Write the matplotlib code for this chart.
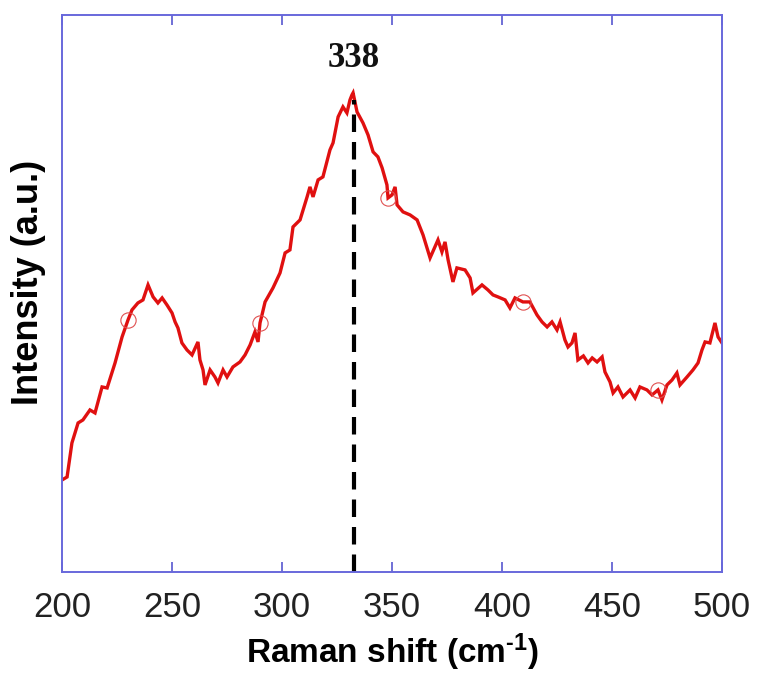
import numpy as np
import matplotlib
matplotlib.use("Agg")
import matplotlib.pyplot as plt

plt.rcParams["mathtext.fontset"] = "custom"
plt.rcParams["mathtext.rm"] = "Liberation Sans:bold"
plt.rcParams["mathtext.bf"] = "Liberation Sans:bold"
plt.rcParams["mathtext.default"] = "rm"

# Raman spectrum, intensity in arbitrary units
raman_shift = [200.0, 202.3, 204.5, 207.3, 209.5, 212.7, 215.0, 218.2, 220.5, 224.1,
               227.3, 230.0, 231.8, 234.5, 236.8, 239.1, 241.4, 243.6, 245.5, 247.7,
               250.0, 251.4, 252.7, 254.5, 256.8, 259.1, 261.8, 262.7, 264.1, 265.0,
               267.3, 269.5, 270.9, 273.2, 275.0, 277.7, 280.9, 283.2, 285.5, 287.7,
               289.1, 290.0, 290.9, 292.3, 293.6, 295.9, 299.1, 301.4, 303.6, 305.0,
               308.2, 311.4, 312.7, 314.1, 316.4, 318.6, 321.8, 323.2, 325.5, 327.7,
               329.5, 330.9, 331.8, 332.3, 334.1, 336.8, 339.1, 341.4, 343.6, 345.5,
               347.7, 348.2, 350.0, 351.4, 352.3, 355.0, 358.2, 361.4, 364.1, 367.3,
               369.5, 370.9, 372.7, 374.1, 375.5, 377.7, 379.5, 383.2, 385.5, 386.8,
               390.9, 393.6, 395.9, 398.2, 401.4, 403.6, 405.9, 409.5, 412.7, 415.9,
               418.2, 420.5, 422.7, 425.0, 426.4, 428.6, 430.0, 431.8, 433.2, 434.5,
               437.0, 439.1, 441.0, 443.2, 445.5, 446.8, 449.1, 450.5, 452.7, 455.0,
               458.2, 460.5, 462.7, 465.9, 468.2, 470.9, 472.7, 475.0, 477.3, 479.5,
               480.9, 484.1, 486.8, 489.1, 490.9, 492.3, 494.5, 496.8, 498.2, 500.0]
intensity = [92, 95, 129, 149, 152, 162, 159, 185, 184, 209,
             235, 252, 262, 269, 272, 287, 275, 269, 274, 267,
             259, 250, 244, 229, 222, 217, 230, 212, 202, 187,
             202, 195, 189, 202, 195, 205, 210, 217, 227, 240,
             230, 249, 257, 270, 275, 284, 299, 319, 322, 345,
             352, 375, 385, 375, 392, 395, 422, 429, 455, 465,
             459, 472, 477, 479, 460, 449, 437, 420, 415, 404,
             387, 374, 377, 385, 367, 360, 357, 352, 337, 314,
             325, 332, 320, 330, 312, 290, 304, 302, 294, 279,
             287, 282, 277, 275, 272, 264, 274, 270, 270, 257,
             250, 245, 250, 242, 250, 232, 225, 229, 239, 212,
             216, 209, 214, 210, 215, 200, 190, 179, 185, 175,
             182, 174, 185, 182, 177, 182, 172, 187, 192, 199,
             187, 195, 202, 209, 222, 230, 229, 249, 235, 229]

marker_shifts = [230.0, 290.0, 348.2, 409.5, 470.9]
peak_line_x = 332.7
peak_line_top = 472
peak_label = "338"
xticks = [200, 250, 300, 350, 400, 450, 500]

fig = plt.figure(figsize=(7.6, 6.75), dpi=100)
ax = fig.add_axes([0.0816, 0.1526, 0.8684, 0.8254])

x = np.array(raman_shift)
y = np.array(intensity)
mark_idx = [int(np.argmin(np.abs(x - m))) for m in marker_shifts]

ax.plot(x, y, color="#e01010", lw=2.4, solid_joinstyle="miter",
        marker="o", markevery=mark_idx, markersize=11,
        markerfacecolor="none", markeredgecolor="#e05050", markeredgewidth=0.8)

ax.plot([peak_line_x, peak_line_x], [0, peak_line_top], color="black",
        lw=3, linestyle=(0, (4.2, 2.4)))

ax.text(peak_line_x, 513, peak_label, ha="center", va="center",
        fontsize=25, fontweight="bold", family="Liberation Serif", color="#111111")

ax.set_xlim(200, 500)
ax.set_ylim(0, 557)
ax.set_xticks(xticks)
ax.set_xticklabels([str(t) for t in xticks], fontsize=25, family="Liberation Sans",
                   color="#222222")
ax.set_yticks([])
ax.tick_params(axis="x", direction="in", length=7, width=1.2, color="#5858d0",
               top=True, bottom=True, pad=14)

for s in ax.spines.values():
    s.set_color("#6868dc")
    s.set_linewidth(1.4)

ax.set_xlabel("Raman shift (cm$^{\\text{-}1}$)", fontsize=24, fontweight="bold",
              family="Liberation Sans", labelpad=5)
ax.set_ylabel("Intensity (a.u.)", fontsize=26, fontweight="bold",
              family="Liberation Sans")
ax.yaxis.set_label_coords(-0.024, 0.52)

fig.savefig("out.png", dpi=100)
